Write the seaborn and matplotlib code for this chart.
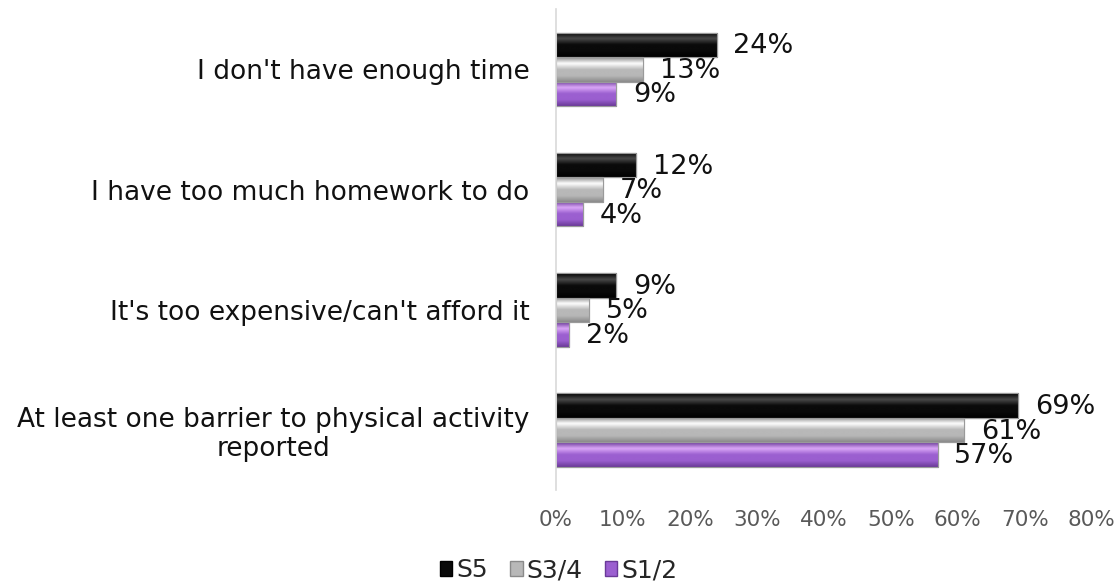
import numpy as np
import pandas as pd
import matplotlib
matplotlib.use("Agg")
import matplotlib.pyplot as plt
import matplotlib.colors as mcolors
from matplotlib.patches import Rectangle
import seaborn as sns

categories = [
    "I don't have enough time",
    "I have too much homework to do",
    "It's too expensive/can't afford it",
    "At least one barrier to physical activity\nreported",
]
groups = ["S5", "S3/4", "S1/2"]
s5 = [24, 12, 9, 69]
s34 = [13, 7, 5, 61]
s12 = [9, 4, 2, 57]
ticks = [0, 10, 20, 30, 40, 50, 60, 70, 80]

# base fill plus edge/highlight shades for the bevelled bars
base_colors = {"S5": "#0a0a0a", "S3/4": "#b8b8b8", "S1/2": "#9b5fd0"}
edge_colors = {"S5": "#000000", "S3/4": "#8a8a8a", "S1/2": "#6a3a98"}
light_colors = {"S5": "#4a4a4a", "S3/4": "#ffffff", "S1/2": "#dba8f8"}

df = pd.DataFrame({
    "category": np.repeat(categories, len(groups)),
    "group": groups * len(categories),
    "value": [v for trio in zip(s5, s34, s12) for v in trio],
})

sns.set_theme(style="white")
plt.rcParams["font.family"] = ["DejaVu Sans"]

fig = plt.figure(figsize=(11.17, 5.85), dpi=100)
ax = fig.add_axes([0.4977, 0.162, 0.4797, 0.822])

sns.barplot(data=df, y="category", x="value", hue="group", order=categories,
            hue_order=groups, palette=base_colors, orient="h", width=0.61,
            gap=0.0, ax=ax, legend=True, saturation=1)

# bevel: vertical gradient dark edge -> light band -> dark edge, clipped to each bar
for container, g in zip(ax.containers, groups):
    cmap = mcolors.LinearSegmentedColormap.from_list(
        g, [edge_colors[g], light_colors[g], base_colors[g], base_colors[g], edge_colors[g]])
    grad = np.linspace(0, 1, 64).reshape(-1, 1)
    for bar, val in zip(container.patches, container.datavalues):
        x0, y0 = bar.get_x(), bar.get_y()
        w, h = bar.get_width(), bar.get_height()
        im = ax.imshow(grad, cmap=cmap, aspect="auto", extent=(x0, x0 + w, y0 + h, y0),
                       interpolation="bicubic", zorder=bar.get_zorder() + 0.1)
        im.set_clip_path(bar)
        bar.set_edgecolor(edge_colors[g])
        bar.set_linewidth(0.8)
        ax.add_patch(Rectangle((x0, y0), w, h, fill=False, edgecolor="#9a9a9a",
                               linewidth=0.8, zorder=bar.get_zorder() + 0.2))
        ax.annotate(f"{val:.0f}%", (x0 + w, y0 + h / 2), xytext=(12, -1),
                    textcoords="offset points", ha="left", va="center",
                    fontsize=19.5, color="#111111")

ax.set_xlim(0, 80)
ax.set_ylim(len(categories) - 0.5, -0.5)
ax.set_xticks(ticks)
ax.set_xticklabels([f"{t}%" for t in ticks], fontsize=15.5, color="#595959")
ax.tick_params(axis="x", length=0, pad=14)
ax.set_yticks(range(len(categories)))
ax.set_yticklabels(categories, fontsize=19, color="#111111",
                   multialignment="center", linespacing=1.15)
ax.tick_params(axis="y", length=0, pad=19)
ax.set_xlabel("")
ax.set_ylabel("")
for side in ["top", "right", "bottom"]:
    ax.spines[side].set_visible(False)
ax.spines["left"].set_color("#d9d9d9")
ax.spines["left"].set_linewidth(1.2)
ax.grid(False)

handles, _ = ax.get_legend_handles_labels()
for hdl, g in zip(handles, groups):
    hdl.set_edgecolor(edge_colors[g])
ax.legend_.remove()
fig.legend(handles, groups, loc="center", bbox_to_anchor=(0.5, 0.025), ncol=3,
           frameon=False, fontsize=18, handlelength=0.5, handleheight=0.5,
           handletextpad=0.15, columnspacing=0.9)

fig.savefig("out.png", dpi=100)
